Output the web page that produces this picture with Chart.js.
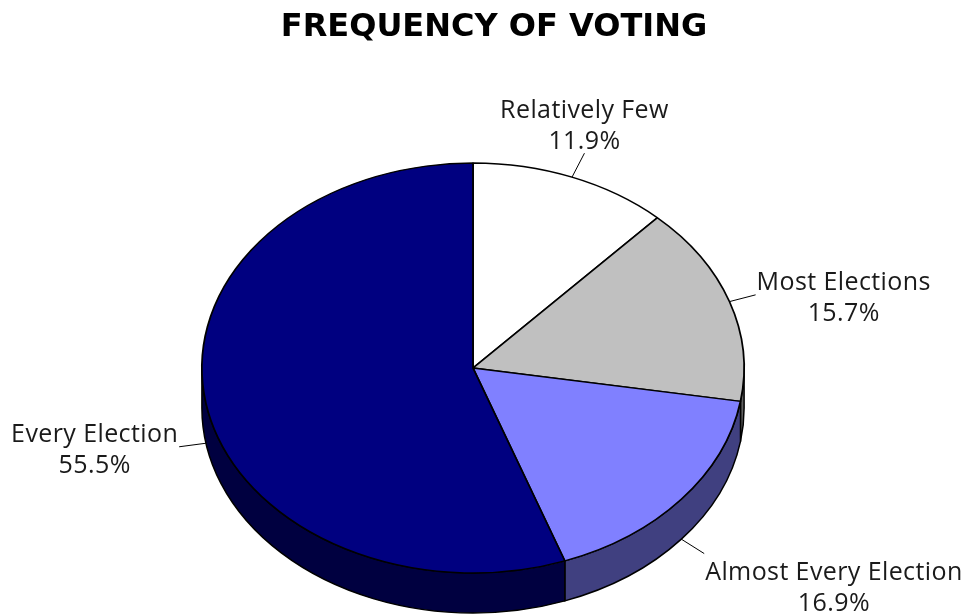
<!DOCTYPE html>
<html>
<head>
<meta charset="utf-8">
<script src="https://cdn.jsdelivr.net/npm/chart.js@4/dist/chart.umd.min.js"></script>
<style>
  html, body { margin: 0; padding: 0; background: #ffffff; }
  #wrap { width: 965px; height: 616px; position: relative; }
</style>
</head>
<body>
<div id="wrap"><canvas id="c" width="965" height="616"></canvas></div>
<script>
// ---- Data ----
const chartTitle = 'FREQUENCY OF VOTING';
const categories = ['Relatively Few', 'Most Elections', 'Almost Every Election', 'Every Election'];
const percentages = [11.9, 15.7, 16.9, 55.5];
const topColors = ['#FFFFFF', '#C0C0C0', '#8080FF', '#000080'];
const sideColors = ['#808080', '#606060', '#404080', '#000040'];

// ---- Layout / 3D look ----
const CENTER_Y = 368;   // screen centre of the tilted pie top
const RADIUS_Y = 205;   // vertical half-axis of the ellipse
const DEPTH = 40;       // thickness of the pie
const LEADER = 27;      // leader line length
const LABEL_FONT = '25px "Open Sans", Lato, sans-serif';
const LINE_H = 31;

function geom(chart) {
  const meta = chart.getDatasetMeta(0);
  const a0 = meta.data[0];
  return { meta, cx: a0.x, cy0: a0.y, rx: a0.outerRadius, ry: RADIUS_Y };
}

const pie3d = {
  id: 'pie3d',
  beforeDatasetsDraw(chart) {
    const ctx = chart.ctx;
    const { meta, cx, cy0, rx, ry } = geom(chart);
    // side walls (front half only)
    meta.data.forEach((arc, i) => {
      const s = arc.startAngle, e = arc.endAngle;
      for (const off of [-2 * Math.PI, 0, 2 * Math.PI]) {
        const a1 = Math.max(s, off), a2 = Math.min(e, off + Math.PI);
        if (a2 > a1) {
          ctx.save();
          ctx.beginPath();
          ctx.ellipse(cx, CENTER_Y, rx, ry, 0, a1, a2, false);
          ctx.lineTo(cx + rx * Math.cos(a2), CENTER_Y + DEPTH + ry * Math.sin(a2));
          ctx.ellipse(cx, CENTER_Y + DEPTH, rx, ry, 0, a2, a1, true);
          ctx.closePath();
          ctx.fillStyle = sideColors[i];
          ctx.fill();
          ctx.lineWidth = 1.5;
          ctx.lineJoin = 'round';
          ctx.strokeStyle = '#000000';
          ctx.stroke();
          ctx.restore();
        }
      }
    });
    // squash the top surface into an ellipse
    ctx.save();
    ctx.translate(cx, CENTER_Y);
    ctx.scale(1, ry / rx);
    ctx.translate(-cx, -cy0);
  },
  afterDatasetsDraw(chart) {
    chart.ctx.restore();
  },
  afterDraw(chart) {
    const ctx = chart.ctx;
    const { meta, cx, rx, ry } = geom(chart);
    // title
    ctx.save();
    ctx.fillStyle = '#000000';
    ctx.font = 'bold 32px "DejaVu Sans", "Open Sans", sans-serif';
    ctx.textAlign = 'center';
    ctx.textBaseline = 'alphabetic';
    ctx.fillText(chartTitle, 494, 36);
    ctx.restore();
    // labels with leader lines
    meta.data.forEach((arc, i) => {
      const m = (arc.startAngle + arc.endAngle) / 2;
      const c = Math.cos(m), s = Math.sin(m);
      let px = cx + rx * c, py = CENTER_Y + ry * s;
      if (s > 0.05) py += DEPTH;
      let dx = c, dy = s * ry / rx;
      const n = Math.hypot(dx, dy); dx /= n; dy /= n;
      const ex = px + dx * LEADER, ey = py + dy * LEADER;
      ctx.save();
      ctx.strokeStyle = '#000000';
      ctx.lineWidth = 1;
      ctx.beginPath(); ctx.moveTo(px, py); ctx.lineTo(ex, ey); ctx.stroke();
      ctx.fillStyle = '#1a1a1a';
      ctx.font = LABEL_FONT;
      ctx.letterSpacing = '0.4px';
      ctx.textBaseline = 'middle';
      ctx.textAlign = 'center';
      const lines = [categories[i], percentages[i].toFixed(1) + '%'];
      const w = Math.max(...lines.map(t => ctx.measureText(t).width));
      let tx = ex;
      if (c > 0.5) tx = ex + 1 + w / 2;
      else if (c < -0.5) tx = ex - 1 - w / 2;
      let top;
      if (s < -0.5) top = ey - 2 * LINE_H + 4;
      else if (s > 0.5) top = ey + 4;
      else top = ey - LINE_H + 4;
      lines.forEach((t, j) => ctx.fillText(t, tx, top + LINE_H * (j + 0.5)));
      ctx.restore();
    });
  }
};

new Chart(document.getElementById('c'), {
  type: 'pie',
  data: {
    labels: categories,
    datasets: [{
      data: percentages,
      backgroundColor: topColors,
      borderColor: '#000000',
      borderWidth: 1.8,
      clip: false
    }]
  },
  options: {
    responsive: false,
    animation: false,
    events: [],
    layout: { padding: { left: 201, right: 220, top: 36, bottom: 36 } },
    plugins: {
      legend: { display: false },
      title: { display: false },
      tooltip: { enabled: false }
    }
  },
  plugins: [pie3d]
});
</script>
</body>
</html>
